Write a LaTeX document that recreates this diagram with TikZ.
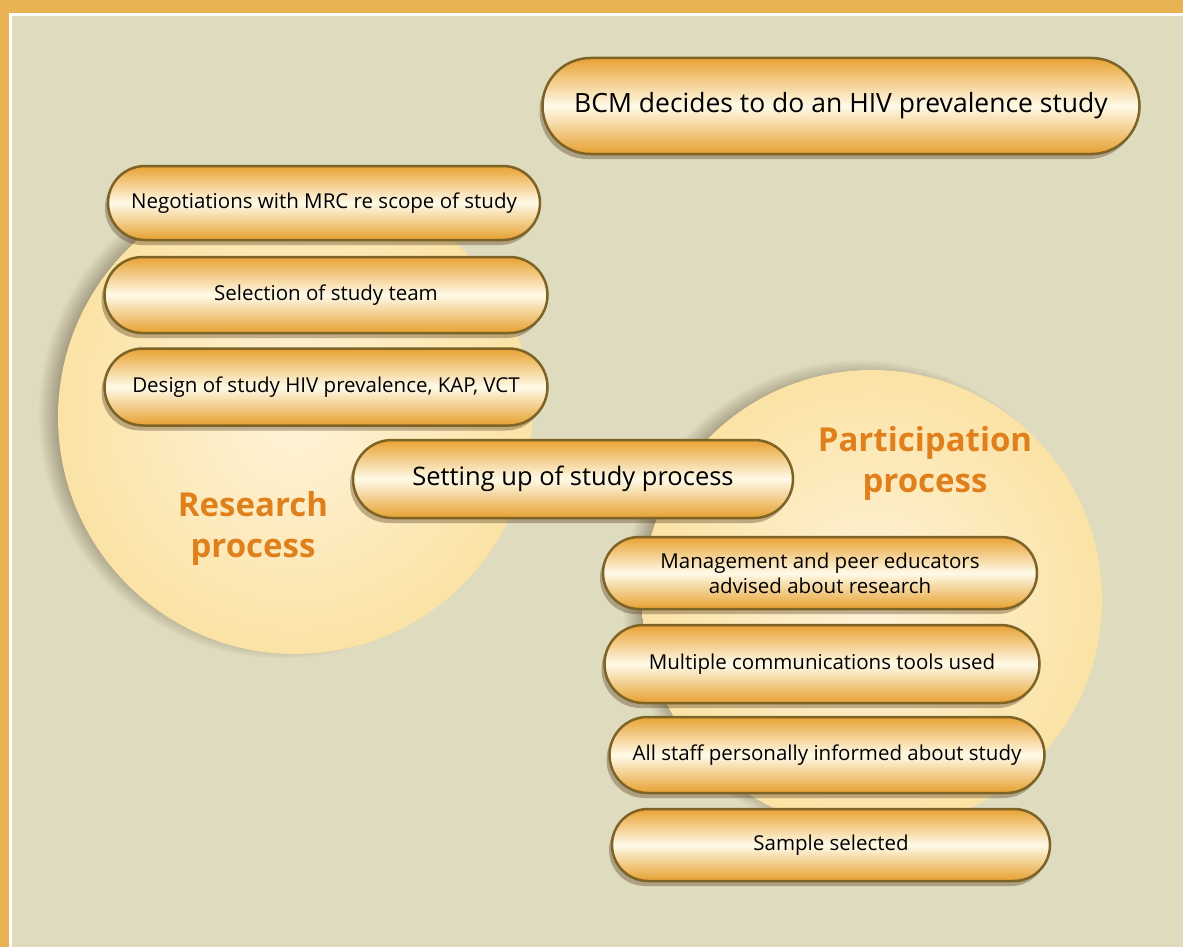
\documentclass[tikz,border=0pt]{standalone}
\usepackage{fontspec}
\setmainfont{Open Sans}
\usetikzlibrary{shapes.misc,shadows,fadings}
\definecolor{frameorange}{HTML}{E9B353}
\definecolor{bgbeige}{HTML}{DFDBBE}
\definecolor{pillborder}{HTML}{7D6325}
\definecolor{pilltop}{HTML}{E8A233}
\definecolor{pillbot}{HTML}{E6A030}
\definecolor{pillmid}{HTML}{FFFAE8}
\definecolor{labelorange}{HTML}{E0801C}
\definecolor{circin}{HTML}{FFF3D8}
\definecolor{circout}{HTML}{FBE3A6}
\tikzset{
  pill/.style={rounded rectangle, draw=pillborder, line width=2.5pt,
    top color=pilltop, bottom color=pillbot, middle color=pillmid,
    align=center, inner sep=0pt, font=\fontsize{20.5}{25}\selectfont,
    drop shadow={shadow xshift=-3pt, shadow yshift=-5pt, fill=black!60!brown, opacity=0.35}},
  proclabel/.style={align=center, text=labelorange, font=\fontsize{33}{41}\selectfont\bfseries},
  bigcircle/.style={inner color=circin, outer color=circout,
    circular drop shadow={shadow xshift=-12pt, shadow yshift=3pt, shadow scale=1.03, fill=black!75!brown, opacity=0.6}}
}
\begin{document}
\begin{tikzpicture}[x=1pt,y=-1pt]
\useasboundingbox (0,0) rectangle (1183,947);
% frame
\fill[frameorange] (0,0) rectangle (1183,947);
\fill[white] (9,13.5) rectangle (1183,947);
\fill[bgbeige] (12,16.5) rectangle (1183,947);
% circles
\path[bigcircle] (295,417) circle (237);
\path[bigcircle] (872,600) circle (230);
% labels
\node[proclabel] (research) at (253,528) {Research\\process};
\node[proclabel] (particip) at (925,463) {Participation\\process};
% pills
\node[pill, minimum width=597pt, minimum height=96pt, font=\fontsize{26.5}{30}\selectfont] (bcm) at (841,106) {BCM decides to do an HIV prevalence study};
\node[pill, minimum width=432pt, minimum height=74pt] (neg) at (324,203) {Negotiations with MRC re scope of study};
\node[pill, minimum width=443pt, minimum height=76pt] (sel) at (326,295) {Selection of study team};
\node[pill, minimum width=443pt, minimum height=77pt] (des) at (326,387) {Design of study HIV prevalence, KAP, VCT};
\node[pill, minimum width=440pt, minimum height=78pt, font=\fontsize{25.5}{29}\selectfont] (set) at (573,479) {Setting up of study process};
\node[pill, minimum width=434pt, minimum height=72pt] (man) at (820,573) {Management and peer educators\\advised about research};
\node[pill, minimum width=435pt, minimum height=78pt] (mul) at (822,664) {Multiple communications tools used};
\node[pill, minimum width=435pt, minimum height=76pt] (all) at (827,755) {All staff personally informed about study};
\node[pill, minimum width=438pt, minimum height=72pt] (sam) at (831,845) {Sample selected};
\end{tikzpicture}
\end{document}
